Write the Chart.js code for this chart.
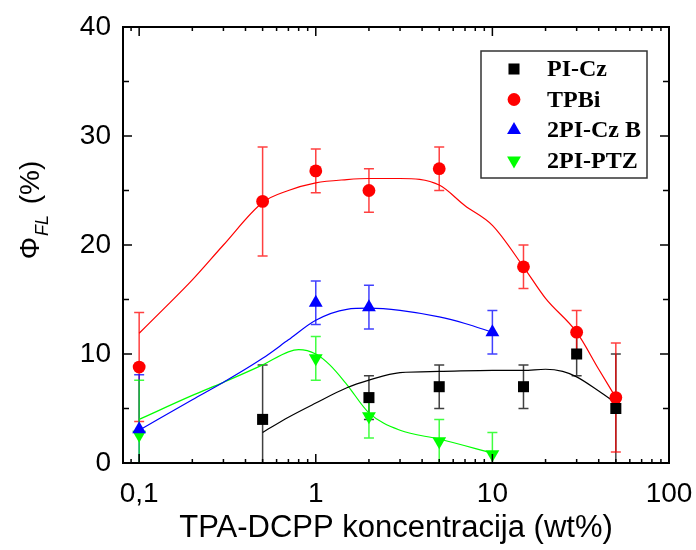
<!DOCTYPE html>
<html>
<head>
<meta charset="utf-8">
<script src="https://cdn.jsdelivr.net/npm/chart.js@4/dist/chart.umd.min.js"></script>
<style>
    body { margin: 0; background: #fff; }
    #wrap { width: 696px; height: 550px; }
</style>
</head>
<body>
<div id="wrap"><canvas id="qyChart"></canvas></div>
<script>
// measured points (x = wt%, y = PLQY %, err = +/-)
const piCzX = [0.5, 2, 5, 15, 30, 50];
const piCzY = [4, 6, 7, 7, 10, 5];
const piCzErr = [5, 2, 2, 2, 2, 5];

const tpbiX = [0.1, 0.5, 1, 2, 5, 15, 30, 50];
const tpbiY = [8.8, 24, 26.8, 25, 27, 18, 12, 6];
const tpbiErr = [5, 5, 2, 2, 2, 2, 2, 5];

const czbX = [0.1, 1, 2, 10];
const czbY = [3.1, 14.7, 14.3, 12];
const czbErr = [5, 2, 2, 2];

const ptzX = [0.1, 1, 2, 5, 10];
const ptzY = [2.6, 9.6, 4.3, 2, 0.8];
const ptzErr = [5, 2, 2, 2, 2];

// guide curves
const piCzFitX = [0.5, 0.7, 1, 1.5, 2, 3, 5, 10, 15, 20, 25, 30, 40, 50];
const piCzFitY = [2.8, 4.2, 5.5, 6.9, 7.6, 8.3, 8.4, 8.5, 8.5, 8.6, 8.4, 7.9, 6.6, 5.5];
const tpbiFitX = [0.1, 0.135, 0.2, 0.3, 0.5, 0.7, 1, 1.5, 2, 3, 5, 7, 10, 15, 20, 30, 40, 50];
const tpbiFitY = [11.9, 14, 16.8, 20, 23.9, 25, 25.7, 26, 26.1, 26.1, 25.5, 23.6, 21.8, 18, 15.1, 12, 8.6, 6];
const czbFitX = [0.1, 0.2, 0.3, 0.5, 0.7, 1, 1.5, 2, 3, 5, 7, 10];
const czbFitY = [3, 5.8, 7.4, 9.6, 11.3, 13.1, 14.1, 14.2, 14, 13.4, 12.8, 12];
const ptzFitX = [0.1, 0.2, 0.3, 0.5, 0.7, 0.8, 1, 1.2, 1.5, 2, 3, 5, 10];
const ptzFitY = [4, 6.2, 7.4, 9.0, 10.2, 10.4, 10.0, 9.0, 7.2, 4.6, 3.0, 2.2, 0.9];

const seriesNames = ['PI-Cz', 'TPBi', '2PI-Cz B', '2PI-PTZ'];
const xTicks = [0.1, 1, 10, 100];
const yTicks = [0, 10, 20, 30, 40];

const SANS = '"Liberation Sans", Arial, sans-serif';

function pts(xs, ys) {
    return xs.map((x, i) => ({x: x, y: ys[i]}));
}

function markerSet(label, xs, ys, errs, color, style, radius, rotation) {
    return {
        label: label,
        data: pts(xs, ys),
        errors: errs,
        errColor: color,
        pointStyle: style,
        pointRadius: radius,
        pointHoverRadius: radius,
        rotation: rotation,
        backgroundColor: color,
        borderColor: color,
        borderWidth: 0,
        showLine: false,
        order: 0
    };
}

function fitSet(xs, ys, color) {
    return {
        label: '',
        isFit: true,
        data: pts(xs, ys),
        showLine: true,
        borderColor: color,
        borderWidth: 1.2,
        pointRadius: 0,
        cubicInterpolationMode: 'monotone',
        fill: false,
        order: 1
    };
}

/** Error bars drawn from the dataset values, under the markers. */
const errorBars = {
    id: 'errorBars',
    beforeDatasetsDraw(chart) {
        const ctx = chart.ctx;
        const xs = chart.scales.x, ys = chart.scales.y;
        const a = chart.chartArea;
        ctx.save();
        ctx.beginPath();
        ctx.rect(a.left, a.top, a.right - a.left, a.bottom - a.top);
        ctx.clip();
        chart.data.datasets.forEach(ds => {
            if(!ds.errors) return;
            ctx.strokeStyle = ds.errColor;
            ctx.globalAlpha = 0.75;
            ctx.lineWidth = 1.5;
            ds.data.forEach((p, i) => {
                const px = xs.getPixelForValue(p.x);
                const top = ys.getPixelForValue(p.y + ds.errors[i]);
                const bot = ys.getPixelForValue(p.y - ds.errors[i]);
                ctx.beginPath();
                ctx.moveTo(px, top); ctx.lineTo(px, bot);
                ctx.moveTo(px - 5, top); ctx.lineTo(px + 5, top);
                ctx.moveTo(px - 5, bot); ctx.lineTo(px + 5, bot);
                ctx.stroke();
            });
        });
        ctx.restore();
    }
};

/** Frame, inward ticks, y title and legend box. */
const decorations = {
    id: 'decorations',
    afterDraw(chart) {
        const ctx = chart.ctx;
        const a = chart.chartArea;
        const xs = chart.scales.x, ys = chart.scales.y;
        ctx.save();
        ctx.strokeStyle = '#000';
        ctx.lineWidth = 2;
        ctx.strokeRect(a.left, a.top, a.right - a.left, a.bottom - a.top);

        ctx.lineWidth = 1.5;
        ctx.beginPath();
        // x ticks (log minor)
        for(let dec = 0.01; dec <= 100; dec *= 10) {
            for(let m = 1; m < 10; m++) {
                const v = dec * m;
                if(v < xs.min - 1e-9 || v > xs.max + 1e-9) continue;
                const px = xs.getPixelForValue(v);
                const len = (m === 1) ? 9 : 4;
                ctx.moveTo(px, a.bottom); ctx.lineTo(px, a.bottom - len);
                ctx.moveTo(px, a.top); ctx.lineTo(px, a.top + len);
            }
        }
        // y ticks
        for(let v = 0; v <= 40; v += 5) {
            const py = ys.getPixelForValue(v);
            const len = (v % 10 === 0) ? 9 : 6;
            ctx.moveTo(a.left, py); ctx.lineTo(a.left + len, py);
            ctx.moveTo(a.right, py); ctx.lineTo(a.right - len, py);
        }
        ctx.stroke();

        // y title: Phi_FL (%)
        ctx.fillStyle = '#000';
        ctx.translate(39, 210);
        ctx.rotate(-Math.PI / 2);
        ctx.textBaseline = 'alphabetic';
        const big = '28px ' + SANS;
        const small = 'italic 18px ' + SANS;
        ctx.font = big;
        const wPhi = ctx.measureText('\u03A6').width;
        ctx.font = small;
        const wSub = ctx.measureText('FL').width;
        ctx.font = big;
        const wRest = ctx.measureText(' (%)').width;
        let x0 = -(wPhi + wSub + wRest + 4) / 2;
        ctx.fillText('\u03A6', x0, 0);
        ctx.font = small;
        ctx.fillText('FL', x0 + wPhi + 1, 9);
        ctx.font = big;
        ctx.fillText(' (%)', x0 + wPhi + wSub + 4, 0);
        ctx.restore();

        // legend
        ctx.save();
        const bx = a.right - 188, by = a.top + 24, bw = 166, bh = 127;
        ctx.fillStyle = '#fff';
        ctx.fillRect(bx, by, bw, bh);
        ctx.strokeStyle = '#333';
        ctx.lineWidth = 1.5;
        ctx.strokeRect(bx, by, bw, bh);
        ctx.font = 'bold 24px "Liberation Serif", "Times New Roman", serif';
        ctx.textBaseline = 'middle';
        const marks = chart.data.datasets.filter(ds => !ds.isFit);
        marks.forEach((ds, i) => {
            const cy = by + 18 + i * 30.5;
            ctx.fillStyle = ds.backgroundColor;
            ctx.strokeStyle = ds.backgroundColor;
            Chart.helpers.drawPoint(ctx, {
                pointStyle: ds.pointStyle,
                radius: ds.pointRadius,
                rotation: ds.rotation || 0,
                borderWidth: 0
            }, bx + 33, cy);
            ctx.fillStyle = '#000';
            ctx.fillText(ds.label, bx + 66, cy + 1);
        });
        ctx.restore();
    }
};

const qyChart = new Chart(document.getElementById('qyChart'), {
    type: 'scatter',
    data: {
        datasets: [
            markerSet(seriesNames[0], piCzX, piCzY, piCzErr, '#000000', 'rect', 7.8, 0),
            markerSet(seriesNames[1], tpbiX, tpbiY, tpbiErr, '#ff0000', 'circle', 6.4, 0),
            markerSet(seriesNames[2], czbX, czbY, czbErr, '#0000ff', 'triangle', 8, 0),
            markerSet(seriesNames[3], ptzX, ptzY, ptzErr, '#00ff00', 'triangle', 8, 180),
            fitSet(piCzFitX, piCzFitY, '#000000'),
            fitSet(tpbiFitX, tpbiFitY, '#ff0000'),
            fitSet(czbFitX, czbFitY, '#0000ff'),
            fitSet(ptzFitX, ptzFitY, '#00ff00')
        ]
    },
    options: {
        responsive: true,
        maintainAspectRatio: false,
        animation: false,
        events: [],
        layout: {
            padding: {left: 0, right: 27, top: 27, bottom: 0}
        },
        plugins: {
            legend: {display: false},
            tooltip: {enabled: false}
        },
        scales: {
            x: {
                type: 'logarithmic',
                min: 0.081,
                max: 100,
                grid: {display: false, drawTicks: false},
                border: {display: false},
                afterBuildTicks: (scale) => {
                    scale.ticks = xTicks.map(v => ({value: v, major: true}));
                },
                afterFit: (scale) => {
                    scale.height = 87;
                    scale.paddingLeft = 0;
                    scale.paddingRight = 0;
                },
                ticks: {
                    autoSkip: false,
                    maxRotation: 0,
                    padding: 14,
                    color: '#000',
                    font: {family: SANS, size: 28},
                    callback: (v) => (v === 0.1 ? '0,1' : String(v))
                },
                title: {
                    display: true,
                    text: 'TPA-DCPP koncentracija (wt%)',
                    color: '#000',
                    font: {family: SANS, size: 31},
                    padding: {top: 0, bottom: 3}
                }
            },
            y: {
                min: 0,
                max: 40,
                grid: {display: false, drawTicks: false},
                border: {display: false},
                afterBuildTicks: (scale) => {
                    scale.ticks = yTicks.map(v => ({value: v}));
                },
                afterFit: (scale) => {
                    scale.width = 123;
                    scale.paddingTop = 0;
                    scale.paddingBottom = 0;
                },
                ticks: {
                    padding: 12,
                    color: '#000',
                    font: {family: SANS, size: 28}
                }
            }
        }
    },
    plugins: [errorBars, decorations]
});
</script>
</body>
</html>
